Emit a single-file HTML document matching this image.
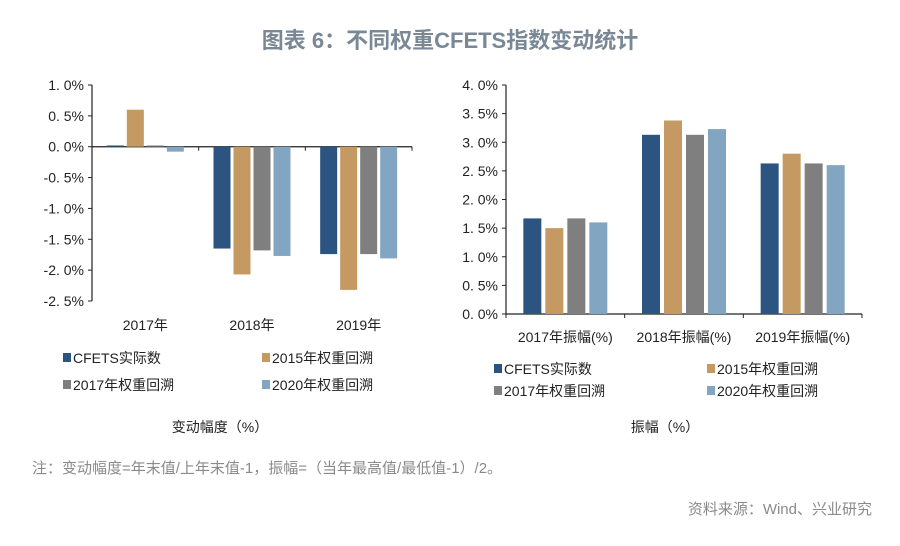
<!DOCTYPE html>
<html><head><meta charset="utf-8"><style>
body{margin:0;width:900px;height:541px;background:#fff;overflow:hidden;font-family:"Liberation Sans","Noto Sans CJK SC",sans-serif}
svg text{font-family:"Liberation Sans","Noto Sans CJK SC",sans-serif}
</style></head><body>
<svg id="svg" width="900" height="541">
<text x="450" y="48" text-anchor="middle" font-size="22" font-weight="bold" fill="#7a8795">图表 6：不同权重CFETS指数变动统计</text>
<g id="left"></g>
<g id="right"></g>
<text x="220" y="432" text-anchor="middle" font-size="14" fill="#222">变动幅度（%）</text>
<text x="665" y="432" text-anchor="middle" font-size="14" fill="#222">振幅（%）</text>
<text x="32" y="473" font-size="15" fill="#8a8a8a">注：变动幅度=年末值/上年末值-1，振幅=（当年最高值/最低值-1）/2。</text>
<text x="872" y="514" text-anchor="end" font-size="15" fill="#8a8a8a">资料来源：Wind、兴业研究</text>
</svg>
<script>
const seriesNames=["CFETS实际数","2015年权重回溯","2017年权重回溯","2020年权重回溯"];
const colors=["#2b5580","#c49a62","#7f7f7f","#82a5c2"];
const leftCats=["2017年","2018年","2019年"];
const leftS1=[0.02,-1.65,-1.74];
const leftS2=[0.60,-2.07,-2.32];
const leftS3=[0.02,-1.68,-1.74];
const leftS4=[-0.08,-1.77,-1.81];
const leftTicks=[1.0,0.5,0.0,-0.5,-1.0,-1.5,-2.0,-2.5];
const rightCats=["2017年振幅(%)","2018年振幅(%)","2019年振幅(%)"];
const rightS1=[1.67,3.13,2.63];
const rightS2=[1.50,3.38,2.80];
const rightS3=[1.67,3.13,2.63];
const rightS4=[1.60,3.23,2.60];
const rightTicks=[4.0,3.5,3.0,2.5,2.0,1.5,1.0,0.5,0.0];
const NS="http://www.w3.org/2000/svg";
function mk(p,t,a){const e=document.createElementNS(NS,t);for(const k in a)e.setAttribute(k,a[k]);p.appendChild(e);return e;}
function chart(g,cfg){
 const {x0,x1,yTop,yBot,vMax,vMin,cats,series,ticks,catY,barW,gap}=cfg;
 const y=v=>yTop+(vMax-v)/(vMax-vMin)*(yBot-yTop);
 const slot=(x1-x0)/cats.length;
 ticks.forEach(t=>{
  const tx=mk(g,'text',{x:x0-8,y:y(t)+5,'text-anchor':'end','font-size':14,fill:'#222'});
  tx.textContent=t.toFixed(1).replace('.', '. ')+'%';
  
  
  mk(g,'line',{x1:x0-4,x2:x0,y1:y(t),y2:y(t),stroke:'#222'});
 });
 mk(g,'line',{x1:x0,x2:x0,y1:yTop,y2:yBot,stroke:'#222','stroke-width':1.2});
 const base=y(Math.max(0,vMin));
 mk(g,'line',{x1:x0,x2:x1,y1:base,y2:base,stroke:'#222','stroke-width':1.2});
 for(let i=0;i<=cats.length;i++)mk(g,'line',{x1:x0+i*slot,x2:x0+i*slot,y1:base,y2:base+4,stroke:'#222'});
 const gw=series.length*barW+(series.length-1)*gap;
 cats.forEach((c,i)=>{
  const cx=x0+slot*(i+0.5);
  series.forEach((s,j)=>{
   const bx=cx-gw/2+j*(barW+gap);
   const v=s[i],y0=y(0),yv=y(v);
   const r=mk(g,'rect',{x:bx,y:Math.min(y0,yv),width:barW,height:Math.max(1,Math.abs(yv-y0)),fill:colors[j]});
   
   
  });
  const t=mk(g,'text',{x:cx,y:catY,'text-anchor':'middle','font-size':14,fill:'#222'});
  t.textContent=c;
  
  
 });
 cfg.legend.forEach((p,j)=>{
  mk(g,'rect',{x:p[0],y:p[1]-10,width:8,height:9,fill:colors[j]});
  const t=mk(g,'text',{x:p[0]+10,y:p[1],'font-size':14,fill:'#222'});
  t.textContent=seriesNames[j];
  
  
 });
}
chart(document.getElementById('left'),{x0:92,x1:412,yTop:85,yBot:301,vMax:1.0,vMin:-2.5,cats:leftCats,series:[leftS1,leftS2,leftS3,leftS4],ticks:leftTicks,catY:330,barW:17,gap:3,legend:[[63,363],[262,363],[63,390],[262,390]]});
chart(document.getElementById('right'),{x0:506,x1:862,yTop:85,yBot:314,vMax:4.0,vMin:0,cats:rightCats,series:[rightS1,rightS2,rightS3,rightS4],ticks:rightTicks,catY:342,barW:18,gap:4,legend:[[494,374],[707,374],[494,396],[707,396]]});
</script>
</body></html>
